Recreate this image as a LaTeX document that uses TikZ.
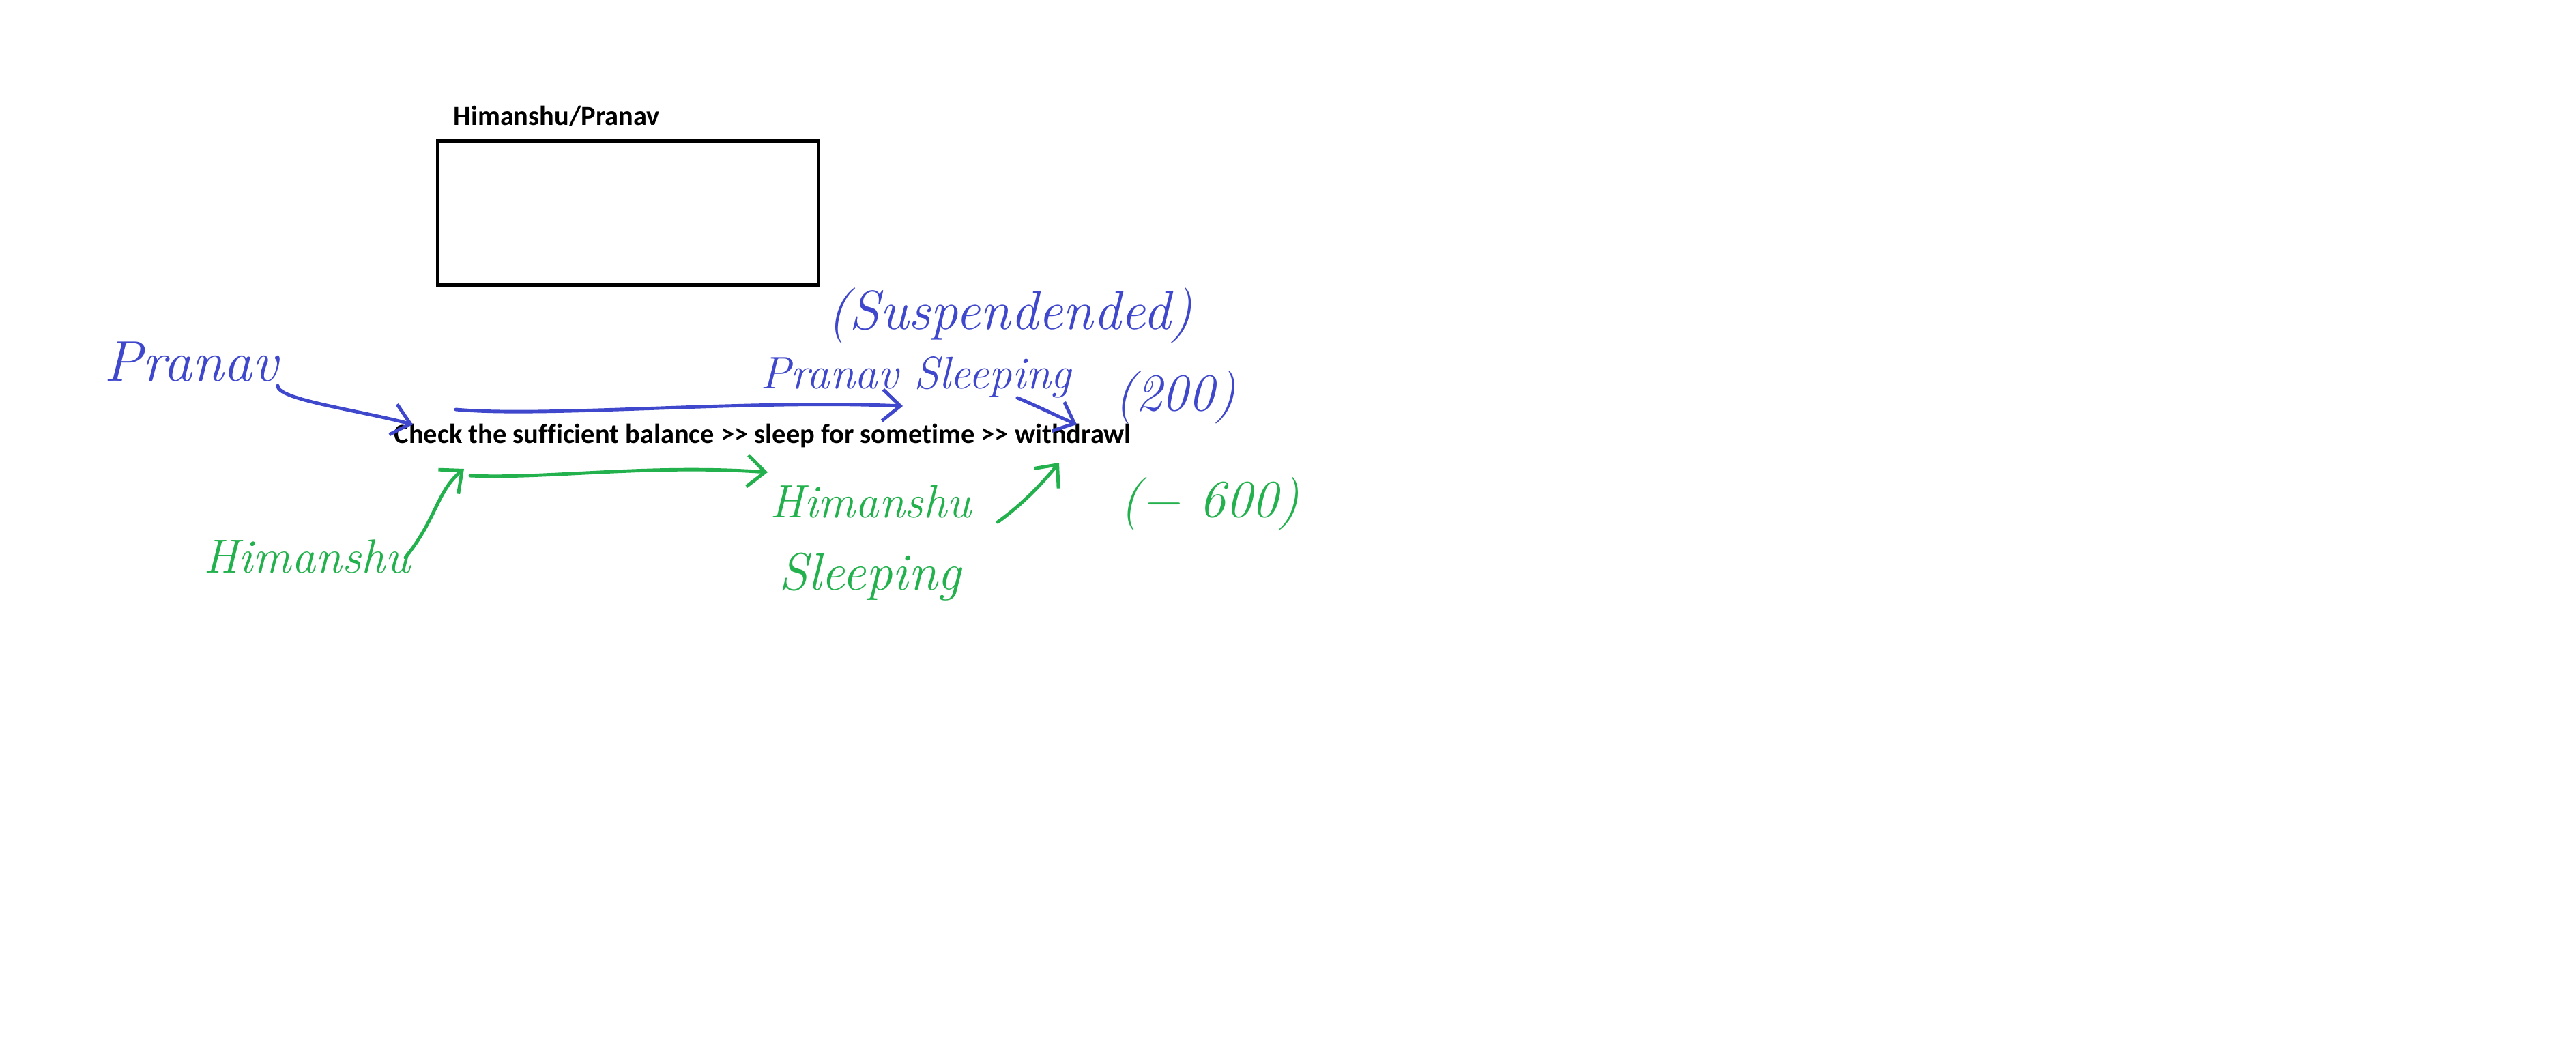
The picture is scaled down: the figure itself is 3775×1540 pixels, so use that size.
\documentclass[tikz,border=0pt]{standalone}
\usepackage{fontspec}
\newfontfamily\calibri[Ligatures=NoCommon]{Carlito}
\usetikzlibrary{arrows.meta}
\definecolor{penblue}{HTML}{3F48CC}
\definecolor{pengreen}{HTML}{22B14C}
\begin{document}
\begin{tikzpicture}[x=0.1mm,y=-0.1mm,
  printed/.style={inner sep=0pt, font=\calibri\bfseries},
  hand/.style={inner sep=0pt, font=\itshape},
  pen/.style={line width=1.4pt, line cap=round, line join=round,
    -{Straight Barb[length=2.6mm,width=4.6mm,line width=1.4pt]}},
  bluepen/.style={pen, draw=penblue},
  greenpen/.style={pen, draw=pengreen}]
\useasboundingbox[fill=white] (0,0) rectangle (3775,1540);

% printed parts
\node[printed, anchor=base west, font=\calibri\bfseries\fontsize{11.5}{13}\selectfont] (title) at (664,183) {Himanshu/Pranav};
\node[draw, line width=1.5pt, minimum width=55.8mm, minimum height=21.1mm, inner sep=0pt] (box) at (920.5,312) {};
\node[printed, anchor=base west, font=\calibri\bfseries\fontsize{11.5}{13}\selectfont] (main) at (577,649) {Check the sufficient balance >> sleep for sometime >> withdrawl};

% blue handwriting
\node[hand, text=penblue, font=\itshape\fontsize{24}{28}\selectfont] (pranav) at (280,530) {Pranav};
\node[hand, text=penblue, font=\itshape\fontsize{23}{27}\selectfont] (susp) at (1480,462) {(Suspendended)};
\node[hand, text=penblue, font=\itshape\fontsize{19}{23}\selectfont] (psleep) at (1342,553) {Pranav Sleeping};
\node[hand, text=penblue, font=\itshape\fontsize{22}{26}\selectfont] (two) at (1722,582) {(200)};

% green handwriting
\node[hand, text=pengreen, font=\itshape\fontsize{20}{24}\selectfont] (himleft) at (450,815) {Himanshu};
\node[hand, text=pengreen, font=\itshape\fontsize{19.5}{23}\selectfont] (himright) at (1276,735) {Himanshu};
\node[hand, text=pengreen, font=\itshape\fontsize{22}{26}\selectfont] (hsleep) at (1275,845) {Sleeping};
\node[hand, text=pengreen, font=\itshape\fontsize{22}{26}\selectfont] (six) at (1773,738) {(− 600)};

% connector ends
\coordinate (pa) at (407,565);
\coordinate (pb) at (605,622);
\coordinate (ba) at (668,600);
\coordinate (bb) at (1323,595);
\coordinate (sa) at (1491,583);
\coordinate (sb) at (1578,622);
\coordinate (ga) at (594,817);
\coordinate (gb) at (680,687);
\coordinate (gc) at (689,697);
\coordinate (gd) at (1125,692);
\coordinate (ge) at (1462,765);
\coordinate (gf) at (1552,678);

% blue connectors
\draw[bluepen] (pa) .. controls (405,585) and (520,600) .. (pb);
\draw[bluepen] (ba) .. controls (800,612) and (1100,585) .. (bb);
\draw[bluepen] (sa) .. controls (1520,595) and (1550,610) .. (sb);

% green connectors
\draw[greenpen] (ga) .. controls (640,760) and (640,720) .. (gb);
\draw[greenpen] (gc) .. controls (800,702) and (950,680) .. (gd);
\draw[greenpen] (ge) .. controls (1500,738) and (1530,705) .. (gf);
\end{tikzpicture}
\end{document}
